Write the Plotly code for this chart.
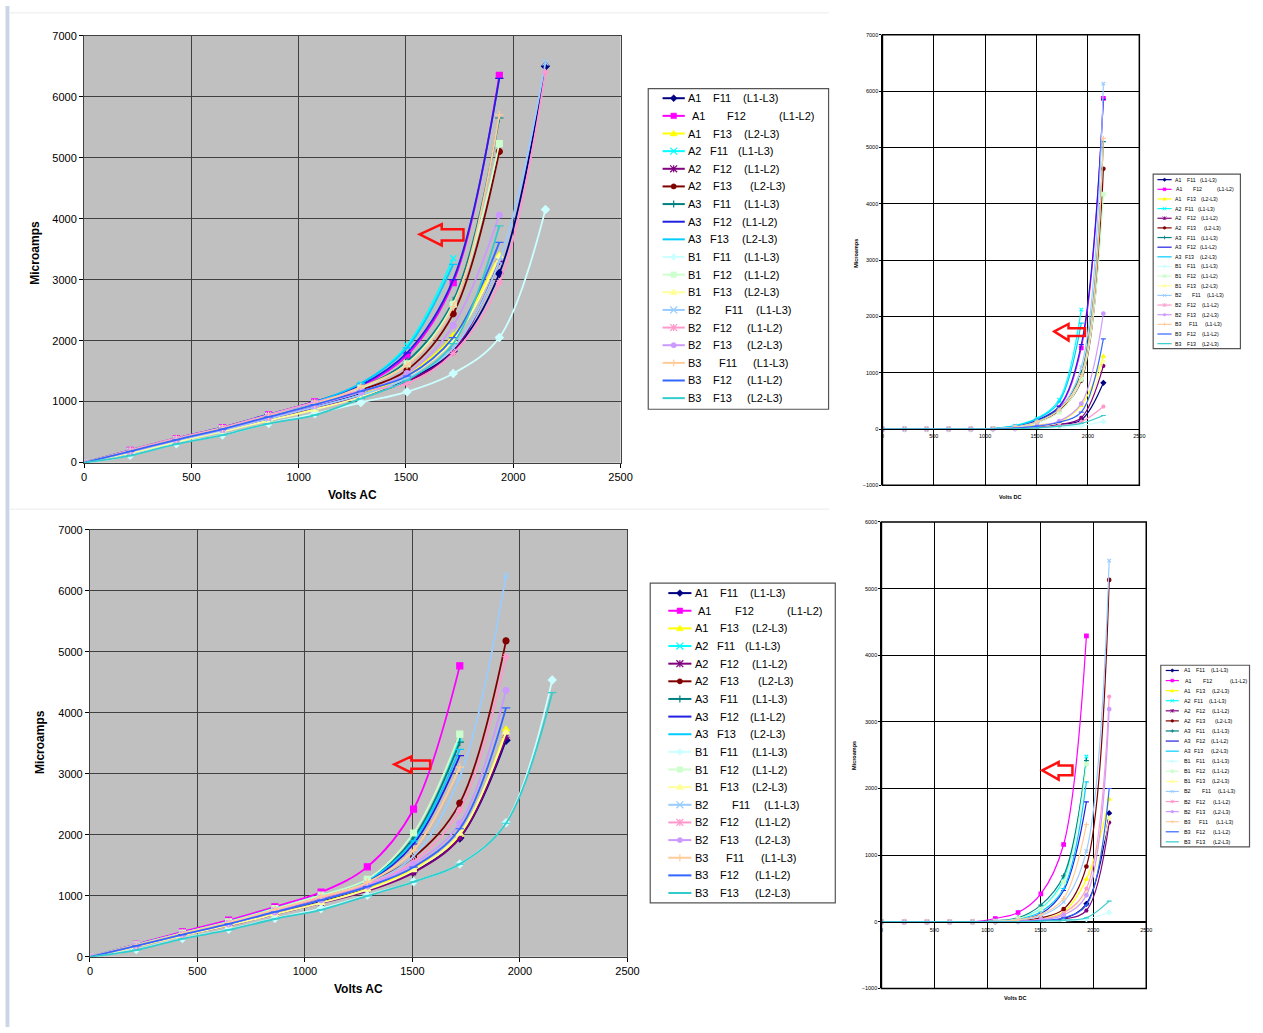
import plotly.graph_objects as go

W, H = 1263, 1033
FONT = "Arial, 'Liberation Sans', sans-serif"

# ---------------- data ----------------
VOLTS = [0, 215, 430, 645, 860, 1075, 1290, 1505, 1720, 1935, 2150]

CODES = ['A1', 'A1', 'A1', 'A2', 'A2', 'A2', 'A3', 'A3', 'A3',
         'B1', 'B1', 'B1', 'B2', 'B2', 'B2', 'B3', 'B3', 'B3']
FEEDS = ['F11', 'F12', 'F13'] * 6
PHASES = ['(L1-L3)', '(L1-L2)', '(L2-L3)'] * 6

# Microamps, chart top-left (Volts AC)
AC_TOP = [
    [0, 180, 370, 540, 740, 930, 1120, 1360, 1830, 3100, 6500],
    [0, 200, 395, 575, 785, 995, 1250, 1760, 2950, 6350],
    [0, 170, 350, 520, 700, 890, 1110, 1440, 2080, 3400],
    [0, 190, 385, 565, 775, 985, 1290, 1920, 3350],
    [0, 175, 355, 525, 715, 900, 1090, 1330, 1820, 3300],
    [0, 185, 375, 550, 750, 950, 1190, 1520, 2440, 5100],
    [0, 190, 380, 560, 765, 965, 1230, 1660, 2650, 5650],
    [0, 205, 400, 580, 790, 1000, 1270, 1800, 3000, 6300],
    [0, 195, 390, 570, 780, 990, 1300, 1880, 3250],
    [0, 120, 310, 455, 640, 800, 985, 1160, 1460, 2050, 4150],
    [0, 185, 375, 555, 755, 960, 1220, 1620, 2600, 5230],
    [0, 160, 340, 510, 690, 870, 1080, 1400, 2000, 3380],
    [0, 175, 360, 530, 720, 910, 1110, 1380, 1880, 3300, 6560],
    [0, 205, 400, 575, 785, 990, 1180, 1300, 1790, 2950, 6400],
    [0, 180, 370, 545, 740, 940, 1160, 1460, 2250, 4060],
    [0, 190, 380, 560, 760, 960, 1240, 1600, 2560, 5700],
    [0, 185, 375, 550, 750, 950, 1170, 1420, 2050, 3610],
    [0, 115, 305, 450, 640, 780, 1050, 1350, 1950, 3880],
]

# Microamps, chart top-right (Volts DC)
DC_TOP = [
    [0, 0, 0, 0, 0, 0, 10, 30, 80, 160, 820],
    [0, 0, 0, 0, 0, 5, 40, 150, 380, 1440, 5870],
    [0, 0, 0, 0, 0, 0, 20, 70, 130, 420, 1290],
    [0, 0, 0, 0, 0, 10, 60, 190, 520, 2120],
    [0, 0, 0, 0, 0, 0, 10, 30, 80, 200, 1120],
    [0, 0, 0, 0, 0, 5, 30, 120, 330, 860, 4620],
    [0, 0, 0, 0, 0, 5, 35, 140, 360, 1000, 5100],
    [0, 0, 0, 0, 0, 5, 40, 160, 400, 1500, 5850],
    [0, 0, 0, 0, 0, 10, 55, 180, 480, 1880],
    [0, 0, 0, 0, 0, 0, 5, 15, 30, 60, 130],
    [0, 0, 0, 0, 0, 5, 30, 110, 300, 880, 4170],
    [0, 0, 0, 0, 0, 0, 15, 50, 110, 300, 1210],
    [0, 0, 0, 0, 0, 5, 35, 130, 350, 1100, 6130],
    [0, 0, 0, 0, 0, 0, 10, 25, 60, 130, 400],
    [0, 0, 0, 0, 0, 0, 20, 60, 140, 450, 2050],
    [0, 0, 0, 0, 0, 5, 35, 130, 340, 950, 5160],
    [0, 0, 0, 0, 0, 0, 15, 50, 120, 300, 1600],
    [0, 0, 0, 0, 0, 0, 5, 20, 50, 100, 240],
]

# Microamps, chart bottom-left (Volts AC)
AC_BOT = [
    [0, 175, 360, 530, 720, 905, 1110, 1400, 1950, 3550],
    [0, 205, 410, 600, 820, 1060, 1475, 2420, 4770],
    [0, 170, 350, 520, 705, 890, 1110, 1440, 2000, 3730],
    [0, 195, 390, 575, 790, 1010, 1260, 1920, 3580],
    [0, 170, 350, 515, 700, 880, 1080, 1380, 1950, 3600],
    [0, 185, 375, 550, 755, 960, 1200, 1630, 2520, 5180],
    [0, 195, 390, 575, 790, 1005, 1250, 1950, 3520],
    [0, 190, 385, 570, 780, 995, 1230, 1850, 3300],
    [0, 195, 390, 575, 790, 1005, 1250, 1900, 3400],
    [0, 120, 300, 450, 630, 790, 1010, 1230, 1520, 2200, 4540],
    [0, 195, 390, 575, 790, 1010, 1270, 2030, 3650],
    [0, 165, 345, 515, 700, 885, 1100, 1420, 2020, 3680],
    [0, 185, 375, 555, 760, 970, 1200, 1650, 2950, 6250],
    [0, 190, 380, 560, 765, 970, 1190, 1560, 2400, 4920],
    [0, 180, 365, 540, 735, 935, 1160, 1520, 2190, 4370],
    [0, 190, 385, 565, 775, 985, 1220, 1750, 3110],
    [0, 180, 365, 540, 735, 930, 1150, 1470, 2100, 4080],
    [0, 110, 295, 440, 620, 770, 1000, 1230, 1520, 2190, 4330],
]

# Microamps, chart bottom-right (Volts DC)
DC_BOT = [
    [0, 0, 0, 0, 0, 0, 5, 15, 50, 270, 1630],
    [0, 0, 0, 0, 0, 50, 140, 420, 1160, 4290],
    [0, 0, 0, 0, 0, 0, 10, 40, 150, 640, 1840],
    [0, 0, 0, 0, 0, 10, 50, 200, 640, 2480],
    [0, 0, 0, 0, 0, 0, 5, 15, 40, 170, 1490],
    [0, 0, 0, 0, 0, 0, 15, 60, 190, 830, 5130],
    [0, 0, 0, 0, 0, 15, 60, 250, 690, 2420],
    [0, 0, 0, 0, 0, 5, 30, 120, 470, 1800],
    [0, 0, 0, 0, 0, 5, 40, 150, 500, 2100],
    [0, 0, 0, 0, 0, 0, 0, 5, 15, 40, 140],
    [0, 0, 0, 0, 0, 10, 50, 190, 600, 2370],
    [0, 0, 0, 0, 0, 0, 10, 30, 100, 450, 1560],
    [0, 0, 0, 0, 0, 5, 25, 90, 300, 1060, 5420],
    [0, 0, 0, 0, 0, 0, 10, 40, 130, 500, 3380],
    [0, 0, 0, 0, 0, 0, 10, 30, 100, 400, 3190],
    [0, 0, 0, 0, 0, 5, 30, 110, 350, 1460],
    [0, 0, 0, 0, 0, 0, 5, 20, 60, 250, 2000],
    [0, 0, 0, 0, 0, 0, 0, 10, 25, 60, 310],
]

X_TICKS = [0, 500, 1000, 1500, 2000, 2500]

# ---------------- styles ----------------
COLORS = ['#000080', '#FF00FF', '#FFFF00', '#00FFFF', '#800080', '#800000',
          '#008080', '#2020E0', '#00CCFF', '#CCFFFF', '#CCFFCC', '#FFFF99',
          '#99CCFF', '#FF99CC', '#CC99FF', '#FFCC99', '#3366FF', '#33CCCC']
SYMBOLS = ['diamond', 'square', 'triangle-up', 'x-thin-open', 'asterisk-open',
           'circle', 'cross-thin-open', 'line-ew-open', 'line-ew-open'] * 2

# legend text offsets (px from box left, measured on the big legend)
CODE_OFF = [38.7, 42] + [38.7] * 16
FEED_OFF = [63.7, 78, 63.7, 60.3, 63.7, 63.7, 63.7, 63.7, 60.3,
            63.7, 63.7, 63.7, 75.3, 63.7, 63.7, 69.7, 63.7, 63.7]
PH_OFF = [93.7, 130.3, 95.3, 88.7, 95.3, 101.3, 95.3, 93, 93,
          95.3, 95.3, 95.3, 107, 98, 98, 103.7, 98, 98]


def PX(x):
    return x / W


def PY(y):
    return 1 - y / H


fig = go.Figure()

panels = [
    dict(data=AC_TOP, xa='x', ya='y', lw=1.8, ms=6),
    dict(data=DC_TOP, xa='x2', ya='y2', lw=1.2, ms=3.5),
    dict(data=AC_BOT, xa='x3', ya='y3', lw=1.8, ms=6),
    dict(data=DC_BOT, xa='x4', ya='y4', lw=1.2, ms=3.5),
]

for p in panels:
    for i, vals in enumerate(p['data']):
        name = f"{CODES[i]} {FEEDS[i]} {PHASES[i]}"
        fig.add_trace(go.Scatter(
            x=VOLTS[:len(vals)], y=vals, name=name, mode='lines+markers',
            xaxis=p['xa'], yaxis=p['ya'], showlegend=False,
            line=dict(color=COLORS[i], width=p['lw'], shape='spline', smoothing=1),
            marker=dict(symbol=SYMBOLS[i], size=p['ms'], color=COLORS[i],
                        line=dict(color=COLORS[i], width=1.2)),
        ))


def main_axes(xd, yd, anchor_x, anchor_y):
    common = dict(showgrid=True, gridcolor='#404040', gridwidth=1.2,
                  showline=True, linecolor='#404040', linewidth=1, mirror=True,
                  ticks='outside', ticklen=4, tickcolor='#000',
                  tickfont=dict(family=FONT, size=11, color='#000'),
                  zeroline=False, fixedrange=True)
    xa = dict(domain=[PX(xd[0]), PX(xd[1])], range=[0, 2500], tickvals=X_TICKS,
              anchor=anchor_y, **common)
    ya = dict(domain=[PY(yd[1]), PY(yd[0])], range=[0, 7000], dtick=1000,
              anchor=anchor_x, **common)
    return xa, ya


def small_axes(xd, yd, yr, zero_px, anchor_x):
    common = dict(showgrid=True, gridcolor='#000', gridwidth=1.4,
                  showline=True, linecolor='#000', linewidth=1.2,
                  ticks='outside', ticklen=2, tickcolor='#000',
                  tickfont=dict(family=FONT, size=5.5, color='#000'),
                  zeroline=False, fixedrange=True)
    xa = dict(domain=[PX(xd[0]), PX(xd[1])], range=[0, 2500], tickvals=X_TICKS,
              anchor='free', position=PY(zero_px), **common)
    ya = dict(domain=[PY(yd[1]), PY(yd[0])], range=yr, dtick=1000,
              anchor=anchor_x, **common)
    return xa, ya


x1, y1 = main_axes((82, 625), (30, 462), 'x', 'y')
x3, y3 = main_axes((88, 632), (530, 962), 'x3', 'y3')
x2, y2 = small_axes((890, 1150), (29, 485), [-1000, 7000], 427.5, 'x2')
x4, y4 = small_axes((889, 1157), (522, 994), [-1000, 6000], 927, 'x4')

shapes = []
annotations = []

# gray plot areas / black borders
for xr, yr in [('x', 'y'), ('x3', 'y3')]:
    shapes.append(dict(type='rect', xref=f'{xr} domain', yref=f'{yr} domain',
                       x0=0, x1=1, y0=0, y1=1, fillcolor='#C0C0C0',
                       line=dict(width=0), layer='below'))
for xr, yr in [('x2', 'y2'), ('x4', 'y4')]:
    shapes.append(dict(type='rect', xref=f'{xr} domain', yref=f'{yr} domain',
                       x0=0, x1=1, y0=0, y1=1, line=dict(color='#000', width=1.5),
                       layer='above'))

# page decorations
shapes.append(dict(type='rect', xref='paper', yref='paper', x0=PX(2.5), x1=PX(6.5), y0=0, y1=1,
                   fillcolor='#CCD5E6', line=dict(width=0), layer='below'))
shapes.append(dict(type='line', xref='paper', yref='paper', x0=PX(7), x1=PX(836),
                   y0=PY(7), y1=PY(7), line=dict(color='#EBEBEB', width=1), layer='below'))
shapes.append(dict(type='line', xref='paper', yref='paper', x0=PX(7), x1=PX(836),
                   y0=PY(509), y1=PY(509), line=dict(color='#EBEBEB', width=1), layer='below'))


def pth(points, close=False):
    s = ''
    for k, (x, y) in enumerate(points):
        s += ('M' if k == 0 else 'L') + f'{PX(x):.5f},{PY(y):.5f} '
    if close:
        s += 'Z'
    return s


def arrow(tip_x, tip_y, base_x, head_t, head_b, body_t, body_b, tail_x):
    pts = [(tip_x, tip_y), (base_x, head_t), (base_x, body_t), (tail_x, body_t),
           (tail_x, body_b), (base_x, body_b), (base_x, head_b)]
    shapes.append(dict(type='path', xref='paper', yref='paper', path=pth(pts, True),
                       line=dict(color='#FF1010', width=2.5), layer='above'))


arrow(421.7, 231, 444, 220.7, 242.3, 226, 237.3, 466)
arrow(1064, 329.3, 1078.3, 321.7, 338.3, 326, 334, 1095)
arrow(396, 767.3, 413.3, 759.3, 775.7, 763.3, 771.7, 432.3)
arrow(1051.7, 773.3, 1068.3, 765, 782.7, 768.3, 778.3, 1082.3)


def marker_shapes(sym, cx, cy, s, color, lw):
    out = []
    if sym == 'diamond':
        out.append(dict(type='path', path=pth([(cx, cy - s), (cx + s, cy), (cx, cy + s), (cx - s, cy)], True),
                        fillcolor=color, line=dict(color=color, width=0.5)))
    elif sym == 'square':
        out.append(dict(type='rect', x0=PX(cx - s * 0.8), x1=PX(cx + s * 0.8),
                        y0=PY(cy + s * 0.8), y1=PY(cy - s * 0.8),
                        fillcolor=color, line=dict(color=color, width=0.5)))
    elif sym == 'triangle-up':
        out.append(dict(type='path', path=pth([(cx, cy - s), (cx + s, cy + s * 0.7), (cx - s, cy + s * 0.7)], True),
                        fillcolor=color, line=dict(color=color, width=0.5)))
    elif sym == 'circle':
        out.append(dict(type='circle', x0=PX(cx - s * 0.75), x1=PX(cx + s * 0.75),
                        y0=PY(cy + s * 0.75), y1=PY(cy - s * 0.75),
                        fillcolor=color, line=dict(color=color, width=0.5)))
    elif sym == 'x-thin-open':
        out.append(dict(type='path', path=pth([(cx - s, cy - s), (cx + s, cy + s)]) + pth([(cx - s, cy + s), (cx + s, cy - s)]),
                        line=dict(color=color, width=lw)))
    elif sym == 'asterisk-open':
        out.append(dict(type='path', path=pth([(cx - s, cy - s), (cx + s, cy + s)]) + pth([(cx - s, cy + s), (cx + s, cy - s)])
                        + pth([(cx, cy - s), (cx, cy + s)]),
                        line=dict(color=color, width=lw)))
    elif sym == 'cross-thin-open':
        out.append(dict(type='path', path=pth([(cx - s, cy), (cx + s, cy)]) + pth([(cx, cy - s), (cx, cy + s)]),
                        line=dict(color=color, width=lw)))
    for o in out:
        o.update(xref='paper', yref='paper', layer='above')
    return out


def legend(left, top, right, bottom, row0, step, samp0, samp1, txt0, scale, fsize, ms, lw):
    shapes.append(dict(type='rect', xref='paper', yref='paper', x0=PX(left), x1=PX(right),
                       y0=PY(bottom), y1=PY(top), fillcolor='#FFFFFF',
                       line=dict(color='#555555', width=1.2), layer='below'))
    for i in range(18):
        cy = row0 + i * step
        shapes.append(dict(type='line', xref='paper', yref='paper',
                           x0=PX(left + samp0), x1=PX(left + samp1), y0=PY(cy), y1=PY(cy),
                           line=dict(color=COLORS[i], width=lw), layer='above'))
        shapes.extend(marker_shapes(SYMBOLS[i], left + (samp0 + samp1) / 2, cy, ms,
                                    COLORS[i], max(lw * 0.6, 0.8)))
        for txt, off in ((CODES[i], CODE_OFF[i]), (FEEDS[i], FEED_OFF[i]), (PHASES[i], PH_OFF[i])):
            annotations.append(dict(x=PX(left + txt0 + (off - 38.7) * scale), y=PY(cy),
                                    xref='paper', yref='paper', text=txt, showarrow=False,
                                    xanchor='left', yanchor='middle',
                                    font=dict(family=FONT, size=fsize, color='#000')))


legend(653, 83.5, 835.5, 408, 93.3, 17.85, 14.5, 37, 38.7, 1.0, 11, 3.5, 2)
legend(655, 584, 842.3, 907.5, 594, 17.85, 18.3, 41.7, 43.3, 1.02, 11, 3.5, 2)
legend(1164, 170, 1252.3, 346.7, 175.7, 9.76, 4.3, 18.7, 20, 0.47, 5.2, 1.8, 1.2)
legend(1171.7, 667, 1261.5, 850.7, 672.3, 10.2, 5, 18.3, 21, 0.51, 5.4, 1.8, 1.2)


# axis titles
def title(x, y, text, size, angle=0):
    annotations.append(dict(x=PX(x), y=PY(y), xref='paper', yref='paper', text=f'<b>{text}</b>',
                            showarrow=False, textangle=angle, xanchor='center', yanchor='middle',
                            font=dict(family=FONT, size=size, color='#000')))


title(354, 495, 'Volts AC', 12)
title(32, 250, 'Microamps', 12, -90)
title(360, 995, 'Volts AC', 12)
title(38, 745, 'Microamps', 12, -90)
title(1020, 497, 'Volts DC', 5.5)
title(863, 250, 'Microamps', 5.5, -90)
title(1025, 1004, 'Volts DC', 5.5)
title(861, 758, 'Microamps', 5.5, -90)

fig.update_layout(
    width=W, height=H,
    margin=dict(l=0, r=0, t=0, b=0),
    paper_bgcolor='#FFFFFF', plot_bgcolor='rgba(0,0,0,0)',
    showlegend=False,
    xaxis=x1, yaxis=y1, xaxis2=x2, yaxis2=y2,
    xaxis3=x3, yaxis3=y3, xaxis4=x4, yaxis4=y4,
    shapes=shapes, annotations=annotations,
    font=dict(family=FONT),
)

PAGE_JS = (
    "var s=document.createElement('style');"
    "s.textContent='html,body{margin:0!important;padding:0!important;overflow:hidden!important;}"
    ".plotly-graph-div{position:fixed!important;left:0!important;top:0!important;}';"
    "document.head.appendChild(s);"
)

fig.write_html("out.html", config={'displayModeBar': False}, post_script=PAGE_JS)
